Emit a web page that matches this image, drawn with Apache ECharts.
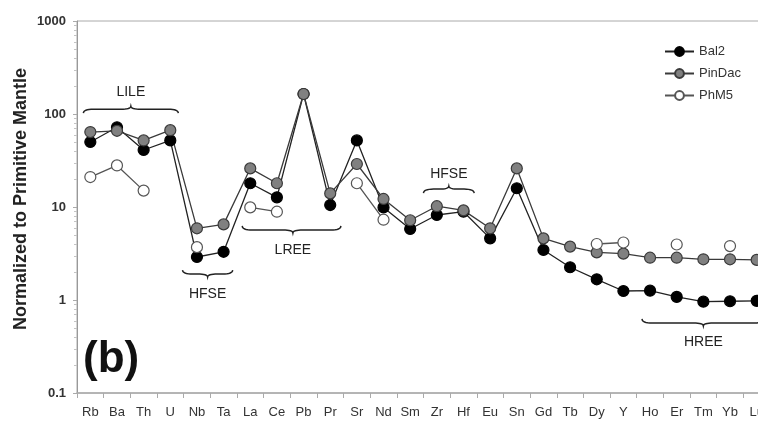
<!DOCTYPE html>
<html>
<head>
<meta charset="utf-8">
<script src="https://cdn.jsdelivr.net/npm/echarts@6/dist/echarts.min.js"></script>
<style>
  html, body { margin: 0; padding: 0; background: #fff; }
  #chart { width: 758px; height: 423px; }
</style>
</head>
<body>
<div id="chart"></div>
<script>
// Trace-element spider diagram, normalized to primitive mantle
const elements = ['Rb','Ba','Th','U','Nb','Ta','La','Ce','Pb','Pr','Sr','Nd','Sm','Zr','Hf','Eu','Sn','Gd','Tb','Dy','Y','Ho','Er','Tm','Yb','Lu'];
const bal2   = [50, 72, 41, 52, 2.9, 3.3, 18, 12.7, 164, 10.5, 52, 9.9, 5.8, 8.2, 8.9, 4.6, 15.9, 3.45, 2.25, 1.67, 1.25, 1.26, 1.08, 0.96, 0.97, 0.98];
const pinDac = [64, 66, 52, 67, 5.9, 6.5, 26, 18, 164, 14, 29, 12.2, 7.2, 10.2, 9.2, 5.9, 26, 4.6, 3.75, 3.25, 3.15, 2.85, 2.85, 2.74, 2.74, 2.7];
const phM5   = [21, 28, 15, null, 3.7, null, 9.9, 8.9, null, null, 18, 7.3, null, null, null, null, null, null, null, 4.0, 4.15, null, 3.95, null, 3.8, null];
const yTicks = [0.1, 1, 10, 100, 1000];
const yTitle = 'Normalized to Primitive Mantle';

// Element groups marked with braces (category index span, value of brace ends, value of label)
const groups = [
  { label: 'LILE', from: -0.26, to: 3.3,  mid: 1.52,  at: 102,   labelAt: 172,  dir: -1 },
  { label: 'HFSE', from: 3.46,  to: 5.34, mid: 4.4,   at: 2.1,   labelAt: 1.16, dir: 1 },
  { label: 'LREE', from: 5.7,   to: 9.4,  mid: 7.6,   at: 6.25,  labelAt: 3.45, dir: 1 },
  { label: 'HFSE', from: 12.5,  to: 14.4, mid: 13.45, at: 14.1,  labelAt: 22.6, dir: -1 },
  { label: 'HREE', from: 20.7,  to: 25.3, mid: 23.0,  at: 0.625, labelAt: 0.354, dir: 1 }
];

const FONT = "'Liberation Sans', Arial, sans-serif";
const chart = echarts.init(document.getElementById('chart'), null, { renderer: 'canvas' });

function lineSeries(name, data, fill, border, lineColor) {
  return {
    name: name,
    type: 'line',
    data: data,
    connectNulls: false,
    symbol: 'circle',
    symbolSize: 11,
    lineStyle: { color: lineColor, width: 1.3 },
    itemStyle: { color: fill, borderColor: border, borderWidth: 1.2 },
    emphasis: { disabled: true },
    animation: false
  };
}

chart.setOption({
  animation: false,
  grid: {
    left: 77, right: -12, top: 21, bottom: 30,
    outerBoundsMode: 'none', containLabel: false,
    show: true, borderColor: '#aaa', borderWidth: 1
  },
  legend: {
    orient: 'vertical',
    left: 664,
    top: 45,
    padding: 0,
    itemWidth: 29,
    itemHeight: 11,
    itemGap: 9,
    textStyle: { fontFamily: FONT, fontSize: 13, color: '#333' },
    data: ['Bal2', 'PinDac', 'PhM5']
  },
  xAxis: {
    type: 'category',
    data: elements,
    boundaryGap: true,
    axisLine: { lineStyle: { color: '#aaa', width: 1.5 } },
    axisTick: { show: true, length: 5, lineStyle: { color: '#aaa' } },
    axisLabel: { interval: 0, fontFamily: FONT, fontSize: 13, color: '#333', margin: 13 },
    splitLine: { show: false }
  },
  yAxis: {
    type: 'log',
    logBase: 10,
    min: yTicks[0],
    max: yTicks[yTicks.length - 1],
    axisLine: { show: true, lineStyle: { color: '#999' } },
    axisTick: { show: true, length: 4, lineStyle: { color: '#aaa' } },
    axisLabel: {
      fontFamily: FONT, fontSize: 13, fontWeight: 'bold', color: '#333', margin: 11,
      formatter: function (v) { return String(+Number(v).toPrecision(3)); }
    },
    splitLine: { show: false }
  },
  series: [
    lineSeries('Bal2', bal2, '#000', '#000', '#222'),
    lineSeries('PinDac', pinDac, '#808080', '#3a3a3a', '#3a3a3a'),
    lineSeries('PhM5', phM5, '#fff', '#555', '#555')
  ]
});

// Braces, group labels, axis title and log minor ticks, positioned through the axes
function xAt(idx) {
  const a = chart.convertToPixel({ xAxisIndex: 0 }, 0);
  const b = chart.convertToPixel({ xAxisIndex: 0 }, 1);
  return a + (b - a) * idx;
}
function yAt(v) { return chart.convertToPixel({ yAxisIndex: 0 }, v); }

function addQuad(pts, p0, p1, p2, n) {
  for (let i = 1; i <= n; i++) {
    const t = i / n, u = 1 - t;
    pts.push([u * u * p0[0] + 2 * u * t * p1[0] + t * t * p2[0],
              u * u * p0[1] + 2 * u * t * p1[1] + t * t * p2[1]]);
  }
}

function bracePoints(x1, x2, xm, y0, dir, arm, tip) {
  const y1 = y0 + dir * arm, y2 = y1 + dir * tip;
  const q = Math.min(10, (x2 - x1) / 5);
  const pts = [[x1, y0]];
  addQuad(pts, [x1, y0], [x1, y1], [x1 + q, y1], 8);
  pts.push([xm - q, y1]);
  addQuad(pts, [xm - q, y1], [xm, y1], [xm, y2], 8);
  addQuad(pts, [xm, y2], [xm, y1], [xm + q, y1], 8);
  pts.push([x2 - q, y1]);
  addQuad(pts, [x2 - q, y1], [x2, y1], [x2, y0], 8);
  return pts;
}

const graphics = [];

// minor ticks at 2..9 of each decade
const axisX = xAt(-0.5);
for (let d = 0; d < yTicks.length - 1; d++) {
  for (let k = 2; k <= 9; k++) {
    const y = Math.round(yAt(yTicks[d] * k)) + 0.5;
    graphics.push({
      type: 'line', silent: true,
      shape: { x1: axisX - 3, y1: y, x2: axisX, y2: y },
      style: { stroke: '#c4c4c4', lineWidth: 1 }
    });
  }
}

// rotated y-axis title
graphics.push({
  type: 'text',
  silent: true,
  x: 21,
  y: 199,
  rotation: Math.PI / 2,
  style: { text: yTitle, fontFamily: FONT, fontSize: 18, fontWeight: 'bold', fill: '#222', align: 'center', verticalAlign: 'middle' }
});

groups.forEach(function (g) {
  const x1 = xAt(g.from), x2 = xAt(g.to), xm = xAt(g.mid);
  const y0 = yAt(g.at);
  graphics.push({
    type: 'polyline',
    silent: true,
    shape: { points: bracePoints(x1, x2, xm, y0, g.dir, 4, 3) },
    style: { fill: null, stroke: '#222', lineWidth: 1.5 }
  });
  graphics.push({
    type: 'text',
    silent: true,
    x: xm,
    y: yAt(g.labelAt),
    style: { text: g.label, fontFamily: FONT, fontSize: 14, fill: '#222', align: 'center', verticalAlign: 'middle' }
  });
});
graphics.push({
  type: 'text',
  silent: true,
  left: 83,
  top: 338,
  style: { text: '(b)', fontFamily: FONT, fontSize: 44, fontWeight: 'bold', fill: '#111' }
});
chart.setOption({ graphic: { elements: graphics } });
</script>
</body>
</html>
